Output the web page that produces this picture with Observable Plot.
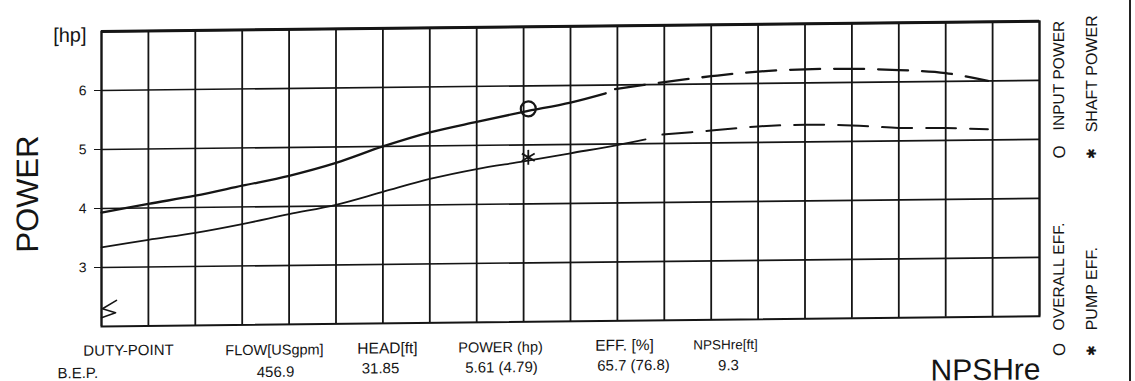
<!DOCTYPE html>
<html><head><meta charset="utf-8">
<script src="https://cdn.jsdelivr.net/npm/d3@7"></script>
<script src="https://cdn.jsdelivr.net/npm/@observablehq/plot@0.6"></script>
<style>
html,body{margin:0;padding:0;background:#fff;}
#wrap{position:relative;width:1135px;height:381px;overflow:hidden;background:#fff;}
#wrap svg{overflow:visible;transform:skewY(-0.62deg);transform-origin:101px 0;}
#edge{position:absolute;left:1129px;top:0;width:2px;height:381px;background:#222;}
g[aria-label="values"] text{letter-spacing:1.2px;}
</style></head><body><div id="wrap"><div id="edge"></div></div>
<script>
// ---- data (x = grid column index along the flow axis, y = power in hp) ----
const xGrid = [0,1,2,3,4,5,6,7,8,9,10,11,12,13,14,15,16,17,18,19,20];
const yGrid = [3,4,5,6];
const yTicks = [3,4,5,6];

const inputX   = [0,1,2,3,4,5,6,7,8,9,10,10.75];
const inputHp  = [3.93,4.07,4.20,4.36,4.52,4.73,5.00,5.23,5.40,5.56,5.71,5.86];
const inputDashX  = [10.95,12,13,14,15,16,17,18,18.9];
const inputDashHp = [5.93,6.04,6.13,6.20,6.23,6.23,6.20,6.14,6.00];

const shaftX   = [0,1,2,3,4,5,6,7,8,9,10,11,11.6];
const shaftHp  = [3.34,3.46,3.57,3.71,3.87,4.02,4.23,4.44,4.60,4.72,4.85,4.98,5.07];
const shaftDashX  = [11.96,13,14,15,16,17,18,18.9];
const shaftDashHp = [5.15,5.21,5.27,5.29,5.27,5.22,5.21,5.18];

const bepX = 9.1;
const bepInput = 5.61;
const bepShaft = 4.79;

const breakX  = [0.32,0.02,0.30,0.0];
const breakHp = [2.44,2.30,2.23,2.15];

const headers = ["DUTY-POINT","FLOW[USgpm]","HEAD[ft]","POWER (hp)","EFF. [%]","NPSHre[ft]"];
const values  = ["B.E.P.","456.9","31.85","5.61 (4.79)","65.7 (76.8)","9.3"];
const legendTop = ["INPUT POWER","SHAFT POWER"];
const legendBottom = ["OVERALL EFF.","PUMP EFF."];

// ---- build ----
const pts = (xs, ys) => xs.map((x,i)=>({x, hp: ys[i]}));
const ink = "#151515";
const L = 101, T = 31;
const lab = (s, px, py, o={}) => Plot.text([s], {frameAnchor:"top-left", lineAnchor:"middle", dx: px-L, dy: py-T, text: d=>d, fill: ink, ...o});

const chart = Plot.plot({
  width: 1135, height: 381,
  marginLeft: 101, marginRight: 96, marginTop: 31, marginBottom: 55,
  style: {fontFamily: "'Liberation Sans', Arial, sans-serif", fontSize: "14px", color: ink, background: "transparent"},
  x: {domain: [0,20], axis: null},
  y: {domain: [2,7], ticks: yTicks, tickSize: 7, tickPadding: 8, label: null, tickFormat: d=>String(d)},
  marks: [
    Plot.ruleX(xGrid, {stroke: ink, strokeWidth: 1.8}),
    Plot.ruleY(yGrid, {stroke: ink, strokeWidth: 1.6}),
    Plot.frame({stroke: ink, strokeWidth: 2}),
    Plot.ruleY([7], {stroke: ink, strokeWidth: 3}),
    Plot.line(pts(breakX, breakHp), {x:"x", y:"hp", stroke: ink, strokeWidth: 1.6}),
    Plot.line(pts(inputX, inputHp), {x:"x", y:"hp", stroke: ink, strokeWidth: 2.3, curve: "catmull-rom"}),
    Plot.line(pts(inputDashX, inputDashHp), {x:"x", y:"hp", stroke: ink, strokeWidth: 2.3, curve: "catmull-rom", strokeDasharray: "30,14"}),
    Plot.line(pts(shaftX, shaftHp), {x:"x", y:"hp", stroke: ink, strokeWidth: 1.8, curve: "catmull-rom"}),
    Plot.line(pts(shaftDashX, shaftDashHp), {x:"x", y:"hp", stroke: ink, strokeWidth: 2, curve: "catmull-rom", strokeDasharray: "30,14"}),
    Plot.dot([{x: bepX, hp: bepInput}], {x:"x", y:"hp", r: 7.5, stroke: ink, strokeWidth: 2.2, fill: "none"}),
    Plot.dot([{x: bepX, hp: bepShaft}], {x:"x", y:"hp", r: 7, symbol: "asterisk", stroke: ink, strokeWidth: 1.8}),
    // axis titles
    lab("[hp]", 86, 34.6, {textAnchor: "end", fontSize: 20}),
    lab("POWER", 27.5, 192.7, {rotate: -90, textAnchor: "middle", fontSize: 31}),
    lab("NPSHre", 930, 379.4, {textAnchor: "start", fontSize: 30}),
    // duty point table: headers
    lab(headers[0], 128, 350.3, {textAnchor: "middle", fontSize: 15}),
    lab(headers[1], 274, 351.5, {textAnchor: "middle", fontSize: 14.5}),
    lab(headers[2], 387, 351, {textAnchor: "middle", fontSize: 15.5}),
    lab(headers[3], 500, 351.3, {textAnchor: "middle", fontSize: 14.5}),
    lab(headers[4], 624, 350.6, {textAnchor: "middle", fontSize: 15.5}),
    lab(headers[5], 725, 351.2, {textAnchor: "middle", fontSize: 13.5}),
    // duty point table: B.E.P. values
    lab(values[0], 57, 372.5, {textAnchor: "start", fontSize: 15, ariaLabel: "values"}),
    lab(values[1], 275, 373.5, {textAnchor: "middle", fontSize: 15, ariaLabel: "values"}),
    lab(values[2], 380, 371, {textAnchor: "middle", fontSize: 15, ariaLabel: "values"}),
    lab(values[3], 501, 371.3, {textAnchor: "middle", fontSize: 15, ariaLabel: "values"}),
    lab(values[4], 633, 370.7, {textAnchor: "middle", fontSize: 15, ariaLabel: "values"}),
    lab(values[5], 728, 371.8, {textAnchor: "middle", fontSize: 15, ariaLabel: "values"}),
    // legend (rotated)
    lab("O", 1059, 161.8, {rotate: -90, textAnchor: "middle", fontSize: 17}),
    lab(legendTop[0], 1058.5, 140.3, {rotate: -90, textAnchor: "start", fontSize: 15.6}),
    lab("\u2731", 1091, 163.6, {rotate: -90, textAnchor: "middle", fontSize: 13}),
    lab(legendTop[1], 1091, 142.6, {rotate: -90, textAnchor: "start", fontSize: 16}),
    lab("O", 1059, 359.3, {rotate: -90, textAnchor: "middle", fontSize: 17}),
    lab(legendBottom[0], 1058.5, 340.3, {rotate: -90, textAnchor: "start", fontSize: 15.6}),
    lab("\u2731", 1091, 360.6, {rotate: -90, textAnchor: "middle", fontSize: 13}),
    lab(legendBottom[1], 1091, 340.6, {rotate: -90, textAnchor: "start", fontSize: 16})
  ]
});
document.getElementById("wrap").prepend(chart);
</script></body></html>
